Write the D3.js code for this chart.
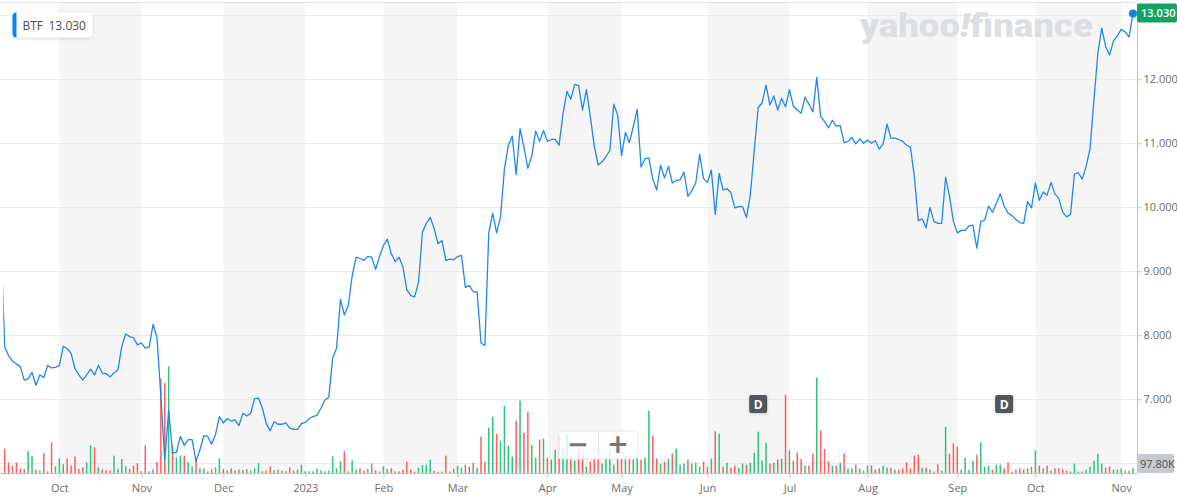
<!DOCTYPE html>
<html><head><meta charset="utf-8">
<script src="https://cdn.jsdelivr.net/npm/d3@7"></script>
<style>
body{margin:0;background:#fff;}
svg{display:block;font-family:"Open Sans","Liberation Sans",Arial,sans-serif;}
</style>
</head><body>
<svg id="chart" width="1177" height="496"></svg>
<script>
// ---------- DATA ----------
const ticker = "BTF";
const lastPriceLabel = "13.030";
const lastVolumeLabel = "97.80K";
const startDate = "2022-09-12";
const holidays = ["2022-11-24","2022-12-26","2023-01-02","2023-01-16","2023-02-20",
  "2023-04-07","2023-05-29","2023-06-19","2023-07-04","2023-09-04"];

const prices = [
  9.50,7.82,7.68,7.60,7.55,7.51,7.30,7.32,7.42,7.22,7.38,7.34,7.53,7.49,7.50,7.53,7.83,7.79,7.72,7.48,
  7.38,7.30,7.38,7.47,7.38,7.53,7.41,7.40,7.35,7.41,7.46,7.83,8.02,7.98,7.96,7.85,7.88,7.80,7.82,8.17,
  7.97,7.05,6.05,6.83,6.16,6.17,6.42,6.28,6.37,6.37,6.03,6.21,6.43,6.42,6.30,6.45,6.73,6.63,6.70,6.66,
  6.68,6.59,6.78,6.74,6.78,7.01,7.02,6.86,6.62,6.51,6.65,6.61,6.61,6.63,6.55,6.53,6.53,6.62,6.64,6.70,
  6.73,6.75,6.86,6.99,7.03,7.64,7.80,8.56,8.32,8.46,8.93,9.22,9.20,9.17,9.23,9.22,9.03,9.23,9.40,9.50,
  9.28,9.15,9.22,9.07,8.71,8.62,8.60,8.83,9.61,9.75,9.84,9.67,9.43,9.48,9.17,9.19,9.18,9.23,9.25,8.75,
  8.78,8.68,8.68,7.88,7.84,9.61,9.91,9.60,9.85,10.60,10.97,11.11,10.51,11.23,10.94,10.61,10.80,11.19,11.03,11.20,
  11.03,11.06,11.06,10.97,11.46,11.81,11.69,11.92,11.90,11.52,11.84,11.42,10.96,10.66,10.71,10.79,10.89,11.61,11.44,10.81,
  11.17,11.01,11.26,11.53,10.63,10.76,10.77,10.44,10.27,10.66,10.46,10.64,10.38,10.42,10.43,10.55,10.17,10.26,10.38,10.83,
  10.45,10.39,10.58,9.89,10.53,10.27,10.29,10.23,9.99,10.01,10.01,9.84,10.20,10.90,11.56,11.63,11.91,11.60,11.74,11.52,
  11.70,11.57,11.84,11.58,11.52,11.47,11.72,11.61,11.49,12.03,11.42,11.34,11.24,11.36,11.27,11.28,11.01,11.03,11.09,10.99,
  11.07,11.00,11.05,11.00,11.04,10.91,10.99,11.30,11.08,11.08,11.06,11.03,10.97,10.94,10.48,9.79,9.82,9.68,10.00,9.78,
  9.75,9.75,10.47,10.17,9.78,9.60,9.64,9.64,9.71,9.72,9.36,9.78,9.80,10.02,9.92,10.06,10.21,10.02,9.91,9.87,
  9.81,9.76,9.75,10.09,9.99,10.38,10.11,10.24,10.19,10.39,10.21,10.14,9.92,9.85,9.89,10.52,10.54,10.44,10.64,10.92,
  11.68,12.41,12.80,12.51,12.38,12.60,12.68,12.78,12.74,12.66,13.03
];

// volume in thousands of shares
const volumesK = [
  300,470,209,144,209,91,78,425,327,65,52,386,33,601,131,288,170,288,144,327,
  78,111,209,542,503,111,72,52,52,340,78,274,131,78,144,190,33,542,33,72,
  216,1849,1764,2091,555,307,340,340,216,131,229,91,91,33,72,111,288,78,52,91,
  52,65,59,72,46,91,190,33,46,131,59,65,46,33,111,46,65,163,33,33,
  33,91,52,33,46,327,91,229,425,33,248,72,91,52,85,190,52,33,131,78,
  91,33,33,65,222,65,20,104,157,163,261,46,20,26,340,26,85,144,104,163,
  124,202,104,712,222,888,1104,771,633,1319,535,320,1025,1417,790,1202,555,300,653,673,
  300,261,457,751,477,751,320,242,555,418,124,222,320,320,183,320,457,163,320,281,
  340,320,320,340,261,300,1221,731,281,183,222,281,379,477,163,183,261,183,202,124,
  222,124,281,816,771,124,202,104,144,104,183,163,202,398,810,242,594,183,202,261,
  281,1535,444,242,398,274,144,144,379,1874,836,470,229,144,144,202,379,85,91,163,
  85,46,144,144,65,91,144,104,104,65,65,91,209,91,340,359,104,104,65,26,
  170,46,908,379,581,516,65,300,65,242,359,601,124,144,65,163,163,91,209,26,
  65,91,72,91,124,444,144,91,144,46,91,91,72,46,26,183,26,26,65,124,
  242,379,183,104,124,65,65,91,46,46,97.8
];

const gridTicks = [6, 7, 8, 9, 10, 11, 12, 13];
const labelTicks = [7, 8, 9, 10, 11, 12];
const monthLabels = ["Oct","Nov","Dec","2023","Feb","Mar","Apr","May","Jun","Jul","Aug","Sep","Oct","Nov"];
const dividendIdx = [194, 257];

// ---------- TRADING DATES ----------
const hol = new Set(holidays);
const dates = [];
{
  let d = new Date(startDate + "T00:00:00Z");
  while (dates.length < prices.length) {
    const wd = d.getUTCDay();
    const iso = d.toISOString().slice(0, 10);
    if (wd !== 0 && wd !== 6 && !hol.has(iso)) dates.push(new Date(d));
    d = new Date(d.getTime() + 86400000);
  }
}
const monthIdx = [];
for (let i = 1; i < dates.length; i++) {
  if (dates[i].getUTCMonth() !== dates[i - 1].getUTCMonth()) monthIdx.push(i);
}

// ---------- LAYOUT ----------
const plotRight = 1137, plotTop = 3, plotBottom = 473;
const svg = d3.select("#chart");

const x = d3.scaleLinear().domain([0, prices.length - 1]).range([0.8, 1133]);
const y = d3.scaleLinear().domain([6, 13]).range([463.3, 15.3]);
const yv = d3.scaleLinear().domain([0, 2000]).range([plotBottom, plotBottom - 102]);

const defs = svg.append("defs");
defs.append("clipPath").attr("id", "plotclip").append("rect")
  .attr("x", 3.3).attr("y", plotTop).attr("width", plotRight - 3.3).attr("height", plotBottom - plotTop);
const sh = defs.append("filter").attr("id", "shadow").attr("x", "-20%").attr("y", "-30%").attr("width", "140%").attr("height", "160%");
sh.append("feDropShadow").attr("dx", 0).attr("dy", 1).attr("stdDeviation", 1.5).attr("flood-color", "#000").attr("flood-opacity", 0.18);

// month bands
const bandG = svg.append("g");
for (let k = 0; k < monthIdx.length; k += 2) {
  const x0 = x(monthIdx[k]);
  const x1 = k + 1 < monthIdx.length ? x(monthIdx[k + 1]) : plotRight;
  bandG.append("rect").attr("x", x0).attr("y", plotTop).attr("width", x1 - x0)
    .attr("height", plotBottom - plotTop).attr("fill", "#f5f5f5");
}

// top border
svg.append("line").attr("x1", 0).attr("x2", plotRight).attr("y1", 2.5).attr("y2", 2.5)
  .attr("stroke", "#e2e2ea").attr("stroke-width", 1);

// gridlines
svg.append("g").selectAll("line").data(gridTicks).join("line")
  .attr("x1", 0).attr("x2", plotRight)
  .attr("y1", d => Math.round(y(d)) + 0.5).attr("y2", d => Math.round(y(d)) + 0.5)
  .attr("stroke", "#ebebeb").attr("stroke-width", 1);

// watermark
const wm = svg.append("text").attr("x", 860).attr("y", 37)
  .attr("font-family", "Roboto, 'Open Sans', sans-serif").attr("font-weight", 900)
  .attr("font-size", 33).attr("fill", "#dcdfe3")
  .attr("textLength", 233).attr("lengthAdjust", "spacingAndGlyphs");
wm.append("tspan").text("yahoo");
wm.append("tspan").attr("font-style", "italic").text("!");
wm.append("tspan").text("finance");

// volume bars
const plot = svg.append("g").attr("clip-path", "url(#plotclip)");
plot.append("g").selectAll("rect").data(volumesK).join("rect")
  .attr("x", (d, i) => x(i) - 0.75)
  .attr("width", 1.5)
  .attr("y", d => yv(d))
  .attr("height", d => plotBottom - yv(d))
  .attr("fill", (d, i) => (i === 0 || prices[i] >= prices[i - 1]) ? "#2fc27c" : "#ff5e5e");

// price line
plot.append("path").datum(prices)
  .attr("fill", "none").attr("stroke", "#1e88f0").attr("stroke-width", 1.3)
  .attr("stroke-linejoin", "round")
  .attr("d", d3.line().x((d, i) => x(i)).y(d => y(d)));

// axes lines
svg.append("line").attr("x1", plotRight + 0.5).attr("x2", plotRight + 0.5)
  .attr("y1", plotTop).attr("y2", plotBottom).attr("stroke", "#c4c4c4");
svg.append("line").attr("x1", 0).attr("x2", plotRight)
  .attr("y1", plotBottom + 0.5).attr("y2", plotBottom + 0.5).attr("stroke", "#c4c4c4");

// right axis (labels 6 and 13 are covered by the value boxes in the original)
const yAxis = svg.append("g").attr("transform", `translate(${plotRight + 0.5},0)`)
  .call(d3.axisRight(y).tickValues(labelTicks).tickFormat(d3.format(".3f")).tickSize(4).tickPadding(2));
yAxis.select(".domain").remove();
yAxis.selectAll(".tick line").attr("stroke", "#c4c4c4");
yAxis.selectAll(".tick text").attr("fill", "#6b6b6b").attr("font-size", 11)
  .attr("font-family", "'Open Sans', 'Liberation Sans', sans-serif");

// bottom axis
const xAxis = svg.append("g").attr("transform", `translate(0,${plotBottom + 0.5})`)
  .call(d3.axisBottom(x).tickValues(monthIdx).tickFormat((d, i) => monthLabels[i]).tickSize(4).tickPadding(7));
xAxis.select(".domain").remove();
xAxis.selectAll(".tick line").attr("stroke", "#c4c4c4");
xAxis.selectAll(".tick text").attr("fill", "#6b6b6b").attr("font-size", 11)
  .attr("font-family", "'Open Sans', 'Liberation Sans', sans-serif");

// dividend markers
const divG = svg.append("g").selectAll("g").data(dividendIdx).join("g")
  .attr("transform", d => `translate(${x(d)},404)`);
divG.append("rect").attr("x", -9).attr("y", -9).attr("width", 18).attr("height", 18).attr("rx", 2)
  .attr("fill", "#52575d").attr("filter", "url(#shadow)");
divG.append("text").attr("text-anchor", "middle").attr("y", 4.5)
  .attr("fill", "#fff").attr("font-size", 12).attr("font-weight", 700).text("D");

// zoom control
const zc = svg.append("g").attr("transform", "translate(558,431)");
zc.append("rect").attr("width", 80).attr("height", 28).attr("rx", 3)
  .attr("fill", "#fff").attr("fill-opacity", 0.8).attr("stroke", "#e6e6e6");
zc.append("line").attr("x1", 40.5).attr("x2", 40.5).attr("y1", 3).attr("y2", 25).attr("stroke", "#e0e0e0");
zc.append("text").attr("x", 20).attr("y", 22).attr("text-anchor", "middle")
  .attr("font-size", 26).attr("font-weight", 700).attr("fill", "#777")
  .attr("font-family", "'DejaVu Sans', sans-serif").text("−");
zc.append("text").attr("x", 60).attr("y", 22).attr("text-anchor", "middle")
  .attr("font-size", 26).attr("font-weight", 700).attr("fill", "#777")
  .attr("font-family", "'DejaVu Sans', sans-serif").text("+");

// last price dot and label
const li = prices.length - 1;
svg.append("circle").attr("cx", x(li)).attr("cy", y(prices[li])).attr("r", 4).attr("fill", "#0a84f0");
svg.append("rect").attr("x", plotRight).attr("y", 3.5).attr("width", 40).attr("height", 19).attr("rx", 2)
  .attr("fill", "#13a55f");
svg.append("text").attr("x", plotRight + 4).attr("y", 17).attr("fill", "#fff")
  .attr("font-size", 11).attr("font-weight", 600).text(lastPriceLabel);

// last volume label
svg.append("rect").attr("x", plotRight).attr("y", 454).attr("width", 37).attr("height", 19).attr("rx", 2)
  .attr("fill", "#c6c9ce");
svg.append("text").attr("x", plotRight + 3).attr("y", 467.5).attr("fill", "#50555b")
  .attr("font-size", 11).text(lastVolumeLabel);

// legend
const lg = svg.append("g").attr("transform", "translate(12.5,12.5)");
lg.append("rect").attr("width", 80).attr("height", 25).attr("rx", 4).attr("fill", "#fff").attr("filter", "url(#shadow)");
lg.append("path").attr("d", "M4,0 V25 A4,4 0 0 1 0,21 V4 A4,4 0 0 1 4,0 Z").attr("fill", "#0a84f0");
lg.append("text").attr("x", 10).attr("y", 17).attr("fill", "#464e56").attr("font-size", 12).text(ticker);
lg.append("text").attr("x", 36).attr("y", 17).attr("fill", "#464e56").attr("font-size", 12).text(lastPriceLabel);
</script>
</body></html>
